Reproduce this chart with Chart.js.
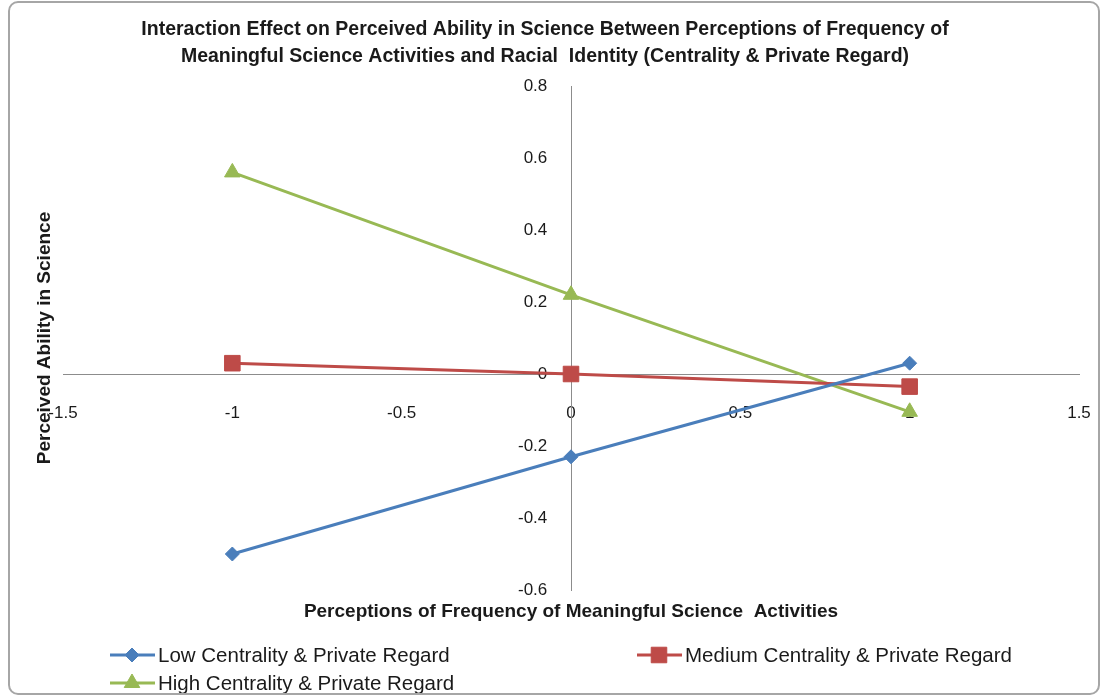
<!DOCTYPE html>
<html>
<head>
<meta charset="utf-8">
<script src="https://cdn.jsdelivr.net/npm/chart.js@4.4.1/dist/chart.umd.min.js"></script>
<style>
  html, body { margin: 0; padding: 0; background: #fff; }
  .wrap { position: relative; width: 1102px; height: 700px; }
  .frame { position: absolute; left: 8px; top: 1px; width: 1088px; height: 690px;
           border: 2px solid #a6a6a6; border-radius: 10px; pointer-events: none; }
</style>
</head>
<body>
<div class="wrap">
  <canvas id="chart" width="1102" height="700"></canvas>
  <div class="frame"></div>
</div>
<script>
// ── DATA ─────────────────────────────────────────────────────────────────────
var xValues = [-1, 0, 1];
var lowValues = [-0.50, -0.23, 0.03];
var mediumValues = [0.03, 0.0, -0.035];
var highValues = [0.56, 0.22, -0.105];

var seriesNames = [
  'Low Centrality & Private Regard',
  'Medium Centrality & Private Regard',
  'High Centrality & Private Regard'
];

var xTicks = [-1.5, -1, -0.5, 0, 0.5, 1, 1.5];
var yTicks = [-0.6, -0.4, -0.2, 0, 0.2, 0.4, 0.6, 0.8];

var titleLines = [
  'Interaction Effect on Perceived Ability in Science Between Perceptions of Frequency of',
  'Meaningful Science Activities and Racial  Identity (Centrality & Private Regard)'
];
var xTitle = 'Perceptions of Frequency of Meaningful Science  Activities';
var yTitle = 'Perceived Ability in Science';

// ── STYLE ────────────────────────────────────────────────────────────────────
var FONT = '"Liberation Sans", Arial, sans-serif';
var TEXT = '#1a1a1a';
var BLUE = '#4a7ebb';
var RED = '#be4b48';
var GREEN = '#98b954';
var AXIS = '#8c8c8c';
// y tick labels sit a little left of the vertical axis (in x data units)
var Y_LABEL_X = -0.07;

function toPoints(vals) {
  return vals.map(function(v, i) { return { x: xValues[i], y: v }; });
}

function series(label, vals, color, style, radius) {
  return {
    label: label,
    data: toPoints(vals),
    borderColor: color,
    backgroundColor: color,
    borderWidth: 3,
    pointStyle: style,
    pointRadius: radius,
    pointBorderWidth: 1,
    showLine: true,
    tension: 0
  };
}

var datasets = [
  series(seriesNames[0], lowValues, BLUE, 'rectRot', 7),
  series(seriesNames[1], mediumValues, RED, 'rect', 11),
  series(seriesNames[2], highValues, GREEN, 'triangle', 9)
];

function fmt(v) { return String(Math.round(v * 10) / 10); }

// Title, axis titles + legend drawn by hand so the layout matches the Excel export
// (the Excel title is centred on the whole picture, not on the plot area).
var extrasPlugin = {
  id: 'extras',
  afterDraw: function(chart) {
    var ctx = chart.ctx;
    var area = chart.chartArea;
    ctx.save();
    ctx.fillStyle = TEXT;
    ctx.textAlign = 'center';
    ctx.textBaseline = 'middle';

    ctx.font = 'bold 19.5px ' + FONT;
    titleLines.forEach(function(line, i) {
      ctx.fillText(line, 545, 30 + i * 27);
    });

    ctx.font = 'bold 19px ' + FONT;
    ctx.fillText(xTitle, (area.left + area.right) / 2, area.bottom + 22);

    ctx.save();
    ctx.translate(45, 338);
    ctx.rotate(-Math.PI / 2);
    ctx.fillText(yTitle, 0, 0);
    ctx.restore();

    // legend
    var slots = [
      { x: 110, y: 655 },
      { x: 637, y: 655 },
      { x: 110, y: 683 }
    ];
    ctx.font = '20.5px ' + FONT;
    ctx.textAlign = 'left';
    chart.data.datasets.forEach(function(ds, i) {
      var s = slots[i];
      ctx.strokeStyle = ds.borderColor;
      ctx.lineWidth = 3;
      ctx.beginPath();
      ctx.moveTo(s.x, s.y);
      ctx.lineTo(s.x + 45, s.y);
      ctx.stroke();
      ctx.fillStyle = ds.backgroundColor;
      ctx.lineWidth = 1;
      Chart.helpers.drawPoint(ctx, { pointStyle: ds.pointStyle, radius: ds.pointRadius, rotation: 0, borderWidth: 1 }, s.x + 22, s.y);
      ctx.fillStyle = TEXT;
      ctx.fillText(ds.label, s.x + 48, s.y + 1);
    });
    ctx.restore();
  }
};

new Chart(document.getElementById('chart'), {
  type: 'scatter',
  data: { datasets: datasets },
  options: {
    responsive: false,
    animation: false,
    layout: { padding: { left: 63, right: 23, bottom: 110, top: 86 } },
    plugins: {
      legend: { display: false },
      tooltip: { enabled: false },
      title: { display: false }
    },
    scales: {
      x: {
        type: 'linear',
        min: -1.5,
        max: 1.5,
        position: { y: 0 },
        afterBuildTicks: function(scale) { scale.ticks = xTicks.map(function(v) { return { value: v }; }); },
        ticks: { color: TEXT, padding: 0, font: { family: FONT, size: 17 }, callback: fmt },
        // invisible tick marks just push the labels down from the axis line
        grid: { display: false, drawTicks: true, tickLength: 29 },
        border: { display: true, color: AXIS, width: 1 }
      },
      y: {
        type: 'linear',
        min: -0.6,
        max: 0.8,
        position: { x: 0 },
        ticks: { display: false },
        grid: { display: false, drawTicks: false },
        border: { display: true, color: AXIS, width: 1 }
      },
      yLabels: {
        type: 'linear',
        axis: 'y',
        min: -0.6,
        max: 0.8,
        position: { x: Y_LABEL_X },
        afterBuildTicks: function(scale) { scale.ticks = yTicks.map(function(v) { return { value: v }; }); },
        ticks: { color: TEXT, padding: 0, font: { family: FONT, size: 17 }, callback: fmt },
        grid: { display: false, drawTicks: false },
        border: { display: false }
      }
    }
  },
  plugins: [extrasPlugin]
});
</script>
</body>
</html>
